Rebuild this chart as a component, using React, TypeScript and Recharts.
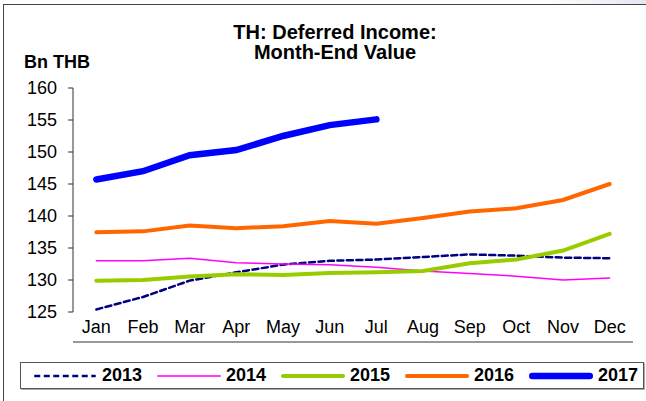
import React from 'react';
import { LineChart, Line, XAxis, YAxis } from 'recharts';

const months = ['Jan', 'Feb', 'Mar', 'Apr', 'May', 'Jun', 'Jul', 'Aug', 'Sep', 'Oct', 'Nov', 'Dec'];

const v2013 = [125.4, 127.35, 129.9, 131.2, 132.4, 133.0, 133.2, 133.6, 134.0, 133.8, 133.5, 133.4];
const v2014 = [133.0, 133.0, 133.4, 132.7, 132.5, 132.4, 132.0, 131.4, 131.0, 130.6, 130.0, 130.3];
const v2015 = [129.9, 130.0, 130.55, 130.9, 130.8, 131.1, 131.2, 131.4, 132.6, 133.2, 134.6, 137.2];
const v2016 = [137.45, 137.6, 138.5, 138.1, 138.4, 139.2, 138.8, 139.7, 140.7, 141.2, 142.5, 145.0];
const v2017 = [145.7, 147.0, 149.5, 150.3, 152.5, 154.2, 155.1];

const yTicks = [125, 130, 135, 140, 145, 150, 155, 160];
const boundaryTicks = [0, 1, 2, 3, 4, 5, 6, 7, 8, 9, 10, 11, 12];
const titleLines = ['TH: Deferred Income:', 'Month-End Value'];

const series = [
  { key: 'y2013', name: '2013', color: '#000080', width: 2.5, dash: '6 3.5' },
  { key: 'y2014', name: '2014', color: '#FF00FF', width: 1.5, dash: undefined },
  { key: 'y2015', name: '2015', color: '#99CC00', width: 4, dash: undefined },
  { key: 'y2016', name: '2016', color: '#FF6600', width: 4, dash: undefined },
  { key: 'y2017', name: '2017', color: '#0000FF', width: 6.5, dash: undefined },
];

const data = months.map((m, i) => ({
  month: m,
  y2013: v2013[i],
  y2014: v2014[i],
  y2015: v2015[i],
  y2016: v2016[i],
  y2017: i < v2017.length ? v2017[i] : null,
}));

const font = '"Liberation Sans", Arial, sans-serif';

export default function App() {
  return (
    <div style={{ position: 'absolute', left: 0, top: 0, width: 646, height: 401, background: '#fff', fontFamily: font, overflow: 'hidden' }}>
      {/* frame */}
      <div style={{ position: 'absolute', left: 540, top: 0, width: 106, height: 4, background: 'linear-gradient(to right, #fff, #e6e6f2)' }} />
      <div style={{ position: 'absolute', left: 3, top: 4, width: 660, height: 420, borderLeft: '1.5px solid #444', borderTop: '1.5px solid #444' }} />

      {titleLines.map((t, i) => (
        <div key={t} style={{ position: 'absolute', left: 0, top: 22 + 20 * i, width: 670, height: 20, textAlign: 'center', fontWeight: 'bold', fontSize: 20, lineHeight: '20px', color: '#000', whiteSpace: 'nowrap' }}>
          {t}
        </div>
      ))}
      <div style={{ position: 'absolute', left: 24, top: 52, fontWeight: 'bold', fontSize: 18, lineHeight: '20px', color: '#000' }}>
        Bn THB
      </div>

      <div style={{ position: 'absolute', left: 0, top: 0 }}>
        <LineChart width={646} height={401} data={data} margin={{ top: 88, right: 13, bottom: 54, left: 0 }}>
          <XAxis
            xAxisId="t"
            type="number"
            domain={[0, 12]}
            ticks={boundaryTicks}
            allowDataOverflow
            tick={false}
            tickSize={5}
            height={5}
            stroke="#333"
          />
          <XAxis
            xAxisId="m"
            dataKey="month"
            scale="band"
            axisLine={false}
            tickLine={false}
            tickSize={0}
            tickMargin={8}
            height={30}
            interval={0}
            tick={{ fill: '#000', fontSize: 18, fontFamily: font }}
          />
          <YAxis
            domain={[125, 160]}
            ticks={yTicks}
            width={73}
            tickSize={5}
            tickMargin={11}
            stroke="#333"
            tick={{ fill: '#000', fontSize: 18, fontFamily: font }}
          />
          {series.map((s) => (
            <Line
              key={s.key}
              xAxisId="m"
              dataKey={s.key}
              type="linear"
              stroke={s.color}
              strokeWidth={s.width}
              strokeDasharray={s.dash}
              strokeLinecap="round"
              dot={false}
              activeDot={false}
              isAnimationActive={false}
            />
          ))}
        </LineChart>
      </div>

      <div style={{ position: 'absolute', left: 20, top: 362, width: 622, height: 25, border: '1px solid #555', boxShadow: '1px 1px 0 #aaa', background: '#fff' }}>
        {series.map((s, i) => (
          <div key={s.key} style={{ position: 'absolute', left: 12 + 124 * i, top: 0, height: 25, display: 'flex', alignItems: 'center' }}>
            <svg width={64} height={10}>
              <line x1={s.width / 2} y1={5} x2={64 - s.width / 2} y2={5} stroke={s.color} strokeWidth={s.width} strokeDasharray={s.dash} strokeLinecap={s.dash ? 'butt' : 'round'} />
            </svg>
            <span style={{ marginLeft: 5, fontWeight: 'bold', fontSize: 18, color: '#000' }}>{s.name}</span>
          </div>
        ))}
      </div>
    </div>
  );
}
